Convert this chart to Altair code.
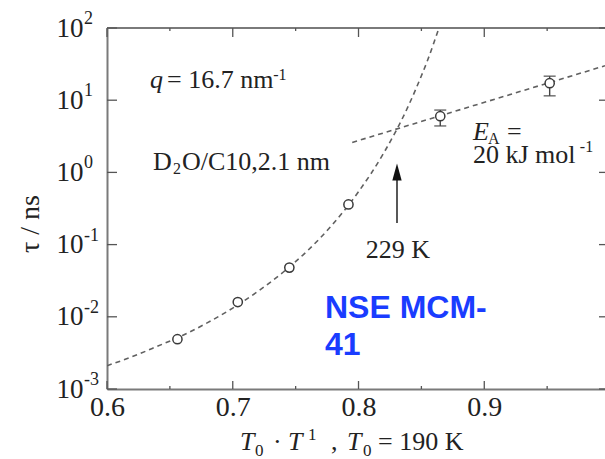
import altair as alt
import pandas as pd

# Measured relaxation times tau (ns) against reduced inverse temperature T0/T
t0_over_t = [0.656, 0.704, 0.745, 0.792, 0.865, 0.952]
tau_ns = [0.0049, 0.016, 0.048, 0.36, 6.0, 17.2]

# Error bars on the two slowest points
err_x = [0.865, 0.952]
err_lo = [4.4, 11.5]
err_hi = [7.3, 21.5]

# Fragile (VFT-like) fit through the low-temperature data
vft_x = [0.600, 0.620, 0.640, 0.660, 0.680, 0.700, 0.720, 0.740, 0.760,
         0.780, 0.800, 0.820, 0.840, 0.850, 0.855, 0.860, 0.864]
vft_tau = [0.0021, 0.0028, 0.0039, 0.0055, 0.0083, 0.0132, 0.0225, 0.0414,
           0.084, 0.196, 0.54, 1.85, 8.6, 21.8, 36.0, 63.0, 100.0]

# Arrhenius line, E_A = 20 kJ/mol
arr_x = [0.795, 0.996]
arr_tau = [2.6, 30.0]

# Crossover marker at 229 K
arrow_x = [0.8306]
arrow_tau_lo = [0.199]
arrow_tau_hi = [1.15]
arrow_head_tau = [1.01]

# Axis ticks
x_major = [0.6, 0.7, 0.8, 0.9]
x_minor = [0.65, 0.75, 0.85, 0.95]
y_major = [0.001, 0.01, 0.1, 1.0, 10.0, 100.0]
y_exponents = ["-3", "-2", "-1", "0", "1", "2"]

W, H = 498, 361
SERIF = "Liberation Serif"
INK = "#222222"
LINE = "#606060"
AXIS = "#7a7a7a"

xscale = alt.Scale(domain=[0.6, 0.996], nice=False, zero=False)
yscale = alt.Scale(type="log", domain=[0.001, 100], nice=False)
xaxis = alt.Axis(values=x_major, format=".1f", labelFont=SERIF, labelFontSize=28,
                 labelColor=INK, labelPadding=4, labelFlush=False, labelOverlap=False,
                 ticks=False, grid=False, domainColor=AXIS, domainWidth=2, title=None)
yaxis = alt.Axis(values=y_major, labelExpr="'10'", labelFont=SERIF, labelFontSize=27,
                 labelColor=INK, labelPadding=24, labelFlush=False, labelOverlap=False,
                 ticks=False, grid=False, domainColor=AXIS, domainWidth=2, title=None)


def X(field="x"):
    return alt.X(field, type="quantitative", scale=xscale, axis=xaxis)


def Y(field="tau"):
    return alt.Y(field, type="quantitative", scale=yscale, axis=yaxis)


one = alt.Data(values=[{}])

# frame line along the top
top_line = alt.Chart(one).mark_rule(color=AXIS, strokeWidth=2).encode(
    x=alt.value(0), x2=alt.value(W), y=alt.value(0))

xmaj = pd.DataFrame({"x": x_major})
xmin = pd.DataFrame({"x": x_minor})
ymaj = pd.DataFrame({"tau": y_major, "exp": y_exponents})

tick_style = dict(color="#555555", strokeWidth=1.3)
ticks = [
    alt.Chart(xmaj).mark_rule(**tick_style).encode(x=X(), y=alt.value(H), y2=alt.value(H - 8)),
    alt.Chart(xmaj).mark_rule(**tick_style).encode(x=X(), y=alt.value(0), y2=alt.value(9)),
    alt.Chart(xmin).mark_rule(**tick_style).encode(x=X(), y=alt.value(H), y2=alt.value(H - 3)),
    alt.Chart(xmin).mark_rule(**tick_style).encode(x=X(), y=alt.value(0), y2=alt.value(3)),
    alt.Chart(ymaj).mark_rule(**tick_style).encode(y=Y(), x=alt.value(0), x2=alt.value(10)),
    alt.Chart(ymaj).mark_rule(**tick_style).encode(y=Y(), x=alt.value(W - 6), x2=alt.value(W)),
]

# decade exponents next to the "10" labels
exps = alt.Chart(ymaj).mark_text(font=SERIF, fontSize=18, color=INK, align="left",
                                 baseline="middle", dy=-9).encode(
    y=Y(), x=alt.value(-23), text="exp:N")

fits = pd.concat([
    pd.DataFrame({"x": vft_x, "tau": vft_tau, "fit": "vft"}),
    pd.DataFrame({"x": arr_x, "tau": arr_tau, "fit": "arrhenius"}),
])
fit_lines = alt.Chart(fits).mark_line(color=LINE, strokeWidth=1.6, strokeDash=[5, 4],
                                      clip=True, interpolate="monotone").encode(
    x=X(), y=Y(), detail="fit:N")

errs = pd.DataFrame({"x": err_x, "lo": err_lo, "hi": err_hi})
err_rules = alt.Chart(errs).mark_rule(color="#444444", strokeWidth=1.4).encode(
    x=X(), y=Y("lo"), y2="hi")
err_caps_lo = alt.Chart(errs).mark_tick(orient="horizontal", size=12, thickness=1.6,
                                        color="#444444").encode(x=X(), y=Y("lo"))
err_caps_hi = alt.Chart(errs).mark_tick(orient="horizontal", size=12, thickness=1.6,
                                        color="#444444").encode(x=X(), y=Y("hi"))

pts = pd.DataFrame({"x": t0_over_t, "tau": tau_ns})
points = alt.Chart(pts).mark_point(shape="circle", filled=False, size=85, strokeWidth=1.5,
                                   color="#3a3a3a", fill="white", fillOpacity=1).encode(
    x=X(), y=Y())

arrow = pd.DataFrame({"x": arrow_x, "lo": arrow_tau_lo, "hi": arrow_tau_hi,
                      "head": arrow_head_tau})
arrow_shaft = alt.Chart(arrow).mark_rule(color="#111111", strokeWidth=1.4).encode(
    x=X(), y=Y("lo"), y2="hi")
arrow_head = alt.Chart(arrow).mark_point(shape="M0,-1L0.55,1L-0.55,1Z", size=289,
                                         filled=True, color="#111111", opacity=1).encode(
    x=X(), y=Y("head"))

# in-plot labels, positioned in data coordinates
reg_labels = pd.DataFrame({
    "x": [0.6477, 0.6596, 0.9181, 0.8910, 0.8314],
    "tau": [14.76, 1.08, 2.80, 1.37, 0.0651],
    "t": ["= 16.7 nm", "O/C10,2.1 nm", "=", "20 kJ mol", "229 K"],
    "a": ["left", "left", "left", "left", "center"],
})
ital_labels = pd.DataFrame({"x": [0.6342, 0.8910], "tau": [14.76, 2.80], "t": ["q", "E"]})
d_label = pd.DataFrame({"x": [0.6366], "tau": [1.08], "t": ["D"]})
small_labels = pd.DataFrame({
    "x": [0.7322, 0.6525, 0.9030, 0.9760],
    "tau": [19.05, 0.95, 2.45, 1.92],
    "t": ["-1", "2", "A", "-1"],
})
blue_labels = pd.DataFrame({"x": [0.7733, 0.7733], "tau": [0.00961, 0.00296],
                            "t": ["NSE MCM-", "41"]})

reg_left = alt.Chart(reg_labels[reg_labels.a == "left"]).mark_text(
    font=SERIF, fontSize=26, color=INK, align="left", baseline="alphabetic").encode(
    x=X(), y=Y(), text="t:N")
reg_center = alt.Chart(reg_labels[reg_labels.a == "center"]).mark_text(
    font=SERIF, fontSize=26, color=INK, align="center", baseline="alphabetic").encode(
    x=X(), y=Y(), text="t:N")
d_text = alt.Chart(d_label).mark_text(
    font=SERIF, fontSize=26, color=INK, align="left", baseline="alphabetic").encode(
    x=X(), y=Y(), text="t:N")
ital_text = alt.Chart(ital_labels).mark_text(
    font=SERIF, fontSize=26, fontStyle="italic", color=INK, align="left",
    baseline="alphabetic").encode(x=X(), y=Y(), text="t:N")
small_text = alt.Chart(small_labels).mark_text(
    font=SERIF, fontSize=16, color=INK, align="left", baseline="alphabetic").encode(
    x=X(), y=Y(), text="t:N")
blue_text = alt.Chart(blue_labels).mark_text(
    font="Liberation Sans", fontSize=32, fontWeight="bold", color="#1a3cff", align="left",
    baseline="alphabetic").encode(x=X(), y=Y(), text="t:N")

# axis titles assembled from pieces (italic symbols, sub/superscripts)
xt_parts = pd.DataFrame({
    "t": ["T", "0", "\u00b7", "T", "1", ",", "T", "0", "= 190 K"],
    "px": [133, 148, 166, 181, 201, 224, 240, 256, 271],
    "py": [422, 428, 422, 422, 412, 422, 422, 428, 422],
    "style": ["i", "s", "r", "i", "s", "r", "i", "s", "r"],
})


def title_piece(style, size, italic):
    kw = dict(font=SERIF, fontSize=size, color=INK, align="left", baseline="alphabetic")
    if italic:
        kw["fontStyle"] = "italic"
    return alt.Chart(xt_parts[xt_parts["style"] == style]).mark_text(**kw).encode(
        x=alt.X("px:Q", scale=None), y=alt.Y("py:Q", scale=None), text="t:N")


xtitle = [title_piece("i", 26, True), title_piece("s", 17, False), title_piece("r", 26, False)]

ytitle = alt.Chart(one).mark_text(font=SERIF, fontSize=28, color=INK, angle=270,
                                  align="center", baseline="middle").encode(
    x=alt.value(-76), y=alt.value(196), text=alt.value("\u03c4 / ns"))

chart = alt.layer(
    top_line, *ticks, fit_lines, err_rules, err_caps_lo, err_caps_hi, points,
    arrow_shaft, arrow_head, exps, reg_left, reg_center, d_text, ital_text, small_text,
    blue_text, *xtitle, ytitle,
).properties(
    width=W, height=H,
    padding={"left": 107, "top": 28, "right": 0, "bottom": 70},
    autosize=alt.AutoSizeParams(type="none"),
    background="white",
).configure_view(stroke=None)

chart.save("out.html", embed_options={"renderer": "svg", "actions": False})
